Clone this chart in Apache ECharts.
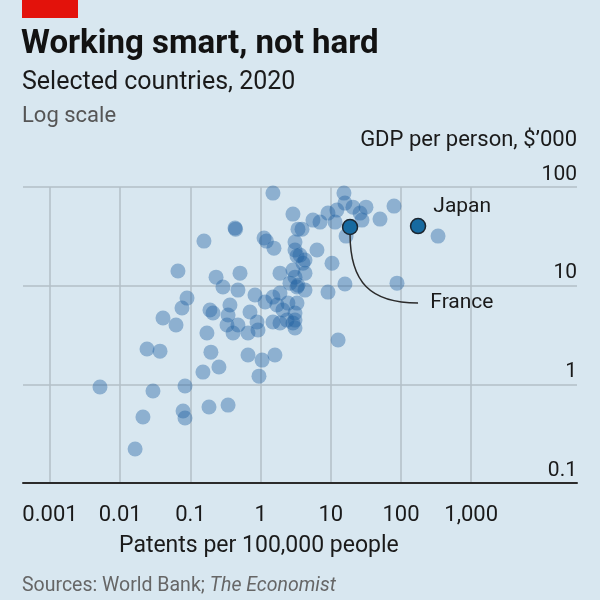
<!DOCTYPE html>
<html>
<head>
<meta charset="utf-8">
<script src="https://cdn.jsdelivr.net/npm/echarts@6/dist/echarts.min.js"></script>
<style>html,body{margin:0;padding:0;background:#d8e7f0;}#c{width:600px;height:600px;}</style>
</head>
<body>
<div id="c"></div>
<script>
// Patents per 100,000 people (x) and GDP per person, $'000 (y)
const patents = [1.50,2.89,0.432,0.44,0.156,1.12,1.21,1.55,3.09,3.41,20.1,15.4,79.5,50.2,31.7,5.57,7.02,9.12,12.2,15.9,20.7,26.1,27.8,11.5,16.5,337,3.89,3.64,6.35,4.29,10.4,2.89,3.09,3.30,
0.0665,0.232,0.509,1.89,0.291,0.476,0.0895,0.0759,0.0407,0.0624,0.190,0.210,0.366,0.344,0.332,0.476,0.405,0.662,0.706,0.832,0.889,0.918,1.16,1.50,1.89,1.71,2.08,1.50,1.89,2.38,2.89,3.09,2.45,2.62,3.30,0.172,
15.9,9.12,87.7,12.7,4.02,4.29,3.09,3.41,4.29,3.30,3.09,3.09,
0.0241,0.0369,0.196,0.255,0.151,0.662,1.05,1.60,0.948,0.00515,0.0293,0.0838,0.0211,0.0786,0.0838,0.184,0.344,0.0163];
const gdp = [86.7,53.1,38.4,37.4,28.3,30.4,28.3,24.0,27.7,37.4,120,86.7,64.0,47.3,62.5,46.2,44.1,54.4,58.3,68.7,62.5,54.4,46.2,44.1,31.8,31.8,37.4,20.4,23.0,18.2,16.9,14.4,23.0,20.0,
14.1,12.2,13.4,13.4,9.68,9.02,7.48,5.93,4.70,3.99,5.66,5.28,6.36,5.04,3.99,3.99,3.31,3.31,5.40,8.03,4.28,3.55,6.82,7.66,8.41,6.36,5.66,4.28,4.18,4.48,4.18,5.28,6.66,10.6,9.68,3.31,
10.4,8.61,10.6,2.81,16.9,13.4,12.2,10.1,9.02,6.66,4.48,3.72,
2.28,2.17,2.12,1.50,1.33,1.98,1.76,1.98,1.21,0.940,0.855,0.962,0.467,0.536,0.456,0.589,0.616,0.221];
const highlightNames = ['France', 'Japan'];
const highlightPatents = [18.8, 175];
const highlightGdp = [39.3, 40.2];
const xTickLabels = ['0.001', '0.01', '0.1', '1', '10', '100', '1,000'];
const yTickLabels = ['0.1', '1', '10', '100'];

const chart = echarts.init(document.getElementById('c'));
const FONT = 'Roboto';
const points = patents.map((p, i) => [p, gdp[i]]);
const hl = highlightNames.map((n, i) => ({name: n, value: [highlightPatents[i], highlightGdp[i]]}));

function txt(opts, style) {
  return Object.assign({type: 'text'}, opts, {style: Object.assign({fontFamily: FONT}, style)});
}

chart.setOption({
  backgroundColor: '#d8e7f0',
  animation: false,
  textStyle: {fontFamily: FONT},
  grid: [
    {left: 23, right: 23, top: 187, bottom: 117},
    {left: 50, width: 421.2, top: 187, bottom: 117}
  ],
  xAxis: [
    {gridIndex: 0, type: 'value', min: 0, max: 1, axisLine: {show: true, lineStyle: {color: '#2b2b2b', width: 2}},
     axisTick: {show: false}, axisLabel: {show: false}, splitLine: {show: false}},
    {gridIndex: 1, type: 'log', logBase: 10, min: 0.001, max: 1000,
     axisLine: {show: false}, axisTick: {show: false},
     splitLine: {show: true, lineStyle: {color: '#b3bfc7', width: 1.5}},
     axisLabel: {show: true, margin: 21, fontSize: 22, color: '#1a1a1a', fontFamily: FONT, verticalAlign: 'top',
       formatter: v => xTickLabels[Math.round(Math.log10(v)) + 3]}}
  ],
  yAxis: [
    {gridIndex: 0, type: 'log', logBase: 10, min: 0.1, max: 100, position: 'right',
     axisLine: {show: false}, axisTick: {show: false},
     splitLine: {show: true, lineStyle: {color: '#b3bfc7', width: 1.5}},
     axisLabel: {show: true, inside: true, margin: 0, fontSize: 21, color: '#1a1a1a', fontFamily: FONT,
       verticalAlign: 'bottom', padding: [0, 0, 2, 0],
       formatter: v => yTickLabels[Math.round(Math.log10(v)) + 1]}},
    {gridIndex: 1, type: 'log', logBase: 10, min: 0.1, max: 100, show: false}
  ],
  series: [
    {type: 'scatter', xAxisIndex: 1, yAxisIndex: 1, data: points, symbolSize: 15,
     itemStyle: {color: 'rgba(31,95,160,0.5)'}, silent: true},
    {type: 'scatter', xAxisIndex: 1, yAxisIndex: 1, data: hl, symbolSize: 15, z: 5,
     itemStyle: {color: '#176aa0', borderColor: '#1c2630', borderWidth: 1.5, opacity: 1},
     label: {show: true, formatter: '{b}', fontSize: 21, color: '#1a1a1a', fontFamily: FONT, position: 'right'}}
  ],
  graphic: [
    {type: 'rect', left: 22, top: 0, shape: {width: 56, height: 18}, style: {fill: '#e3120b'}},
    txt({left: 21, top: 28}, {text: 'Working smart, not hard', fontSize: 33, fontWeight: 'bold', fill: '#121212'}),
    txt({left: 22, top: 70}, {text: 'Selected countries, 2020', fontSize: 25, fill: '#1a1a1a'}),
    txt({left: 22, top: 105}, {text: 'Log scale', fontSize: 22, fill: '#555'}),
    txt({right: 23, top: 129}, {text: "GDP per person, $\u2019000", fontSize: 22, fill: '#1a1a1a'}),
    txt({left: 119, top: 535}, {text: 'Patents per 100,000 people', fontSize: 23, fill: '#1a1a1a'}),
    txt({left: 22, top: 576}, {text: '{a|Sources: World Bank; }{b|The Economist}',
      rich: {a: {fontSize: 19.5, fontFamily: FONT, fill: '#666'}, b: {fontSize: 19.5, fontFamily: FONT, fontStyle: 'italic', fill: '#666'}}})
  ]
});

// Position labels and connector relative to the highlighted points
const fr = chart.convertToPixel({xAxisIndex: 1, yAxisIndex: 1}, hl[0].value);
chart.setOption({
  series: [{}, {data: [
    {name: 'France', value: hl[0].value, label: {position: 'right', offset: [67, 76]}},
    {name: 'Japan', value: hl[1].value, label: {position: 'right', offset: [2, -19]}}
  ]}],
  graphic: [
    {}, {}, {}, {}, {}, {}, {},
    {type: 'bezierCurve', z: 4, shape: {x1: fr[0], y1: fr[1] + 7, cpx1: fr[0], cpy1: fr[1] + 55, cpx2: fr[0] + 20, cpy2: fr[1] + 76, x2: fr[0] + 68, y2: fr[1] + 76},
     style: {stroke: '#2b2b2b', lineWidth: 1.5, fill: null}}
  ]
});
</script>
</body>
</html>
